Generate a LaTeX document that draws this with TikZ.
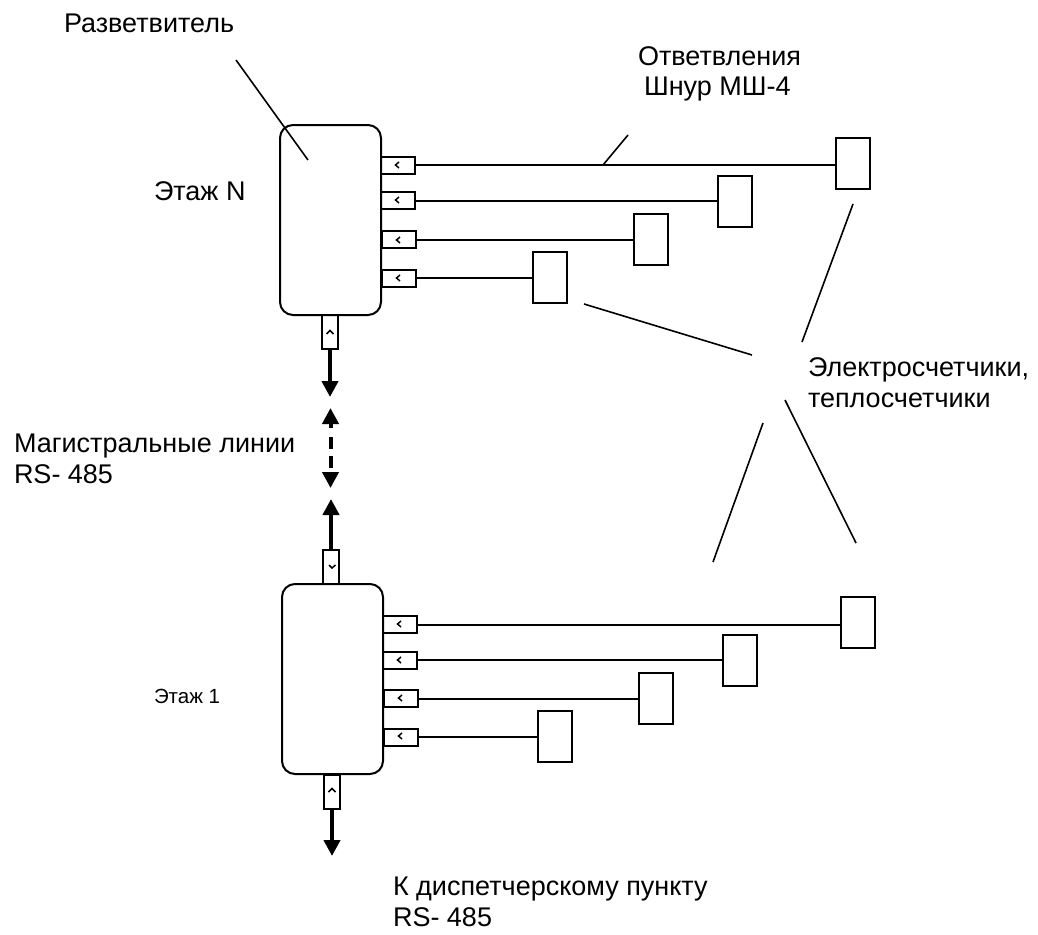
\documentclass[tikz,border=0pt]{standalone}
\usepackage{fontspec}
\setmainfont{Liberation Sans}
\usetikzlibrary{arrows.meta}
\begin{document}
\begin{tikzpicture}[x=1pt, y=-1pt, line width=2pt,
		splitter/.style={draw, rounded corners=13pt, minimum width=101pt, minimum height=190pt, inner sep=0pt, outer sep=0pt},
		tap/.style={draw, minimum width=34pt, minimum height=17pt, inner sep=0pt, outer sep=0pt},
		trunk/.style={draw, minimum width=16pt, minimum height=34pt, inner sep=0pt, outer sep=0pt},
		meter/.style={draw, minimum width=34pt, minimum height=51pt, inner sep=0pt, outer sep=0pt},
		label/.style={anchor=base west, inner sep=0pt, font=\fontsize{27}{32}\selectfont},
		mainline/.style={line width=4pt, -{Triangle[length=16pt, width=16pt]}},
		leader/.style={line width=1.6pt},
		chevron/.style={line width=1.5pt}]
	\useasboundingbox (0, 0) rectangle (1038, 934);

	% upper floor
	\node[splitter] (boxN) at (330.5, 220) {};
	\node[tap] (tapN1) at (398, 165) {};
	\node[tap] (tapN2) at (398, 200.5) {};
	\node[tap] (tapN3) at (398.5, 239.5) {};
	\node[tap] (tapN4) at (398.5, 278) {};
	\node[trunk] (trunkN) at (330, 332) {};
	\node[meter] (meterN1) at (853, 163) {};
	\node[meter] (meterN2) at (735, 201.5) {};
	\node[meter] (meterN3) at (651, 239.5) {};
	\node[meter] (meterN4) at (549.5, 277.5) {};

	\draw (tapN1) -- (tapN1 -| meterN1.west);
	\draw (tapN2) -- (tapN2 -| meterN2.west);
	\draw (tapN3) -- (tapN3 -| meterN3.west);
	\draw (tapN4) -- (tapN4 -| meterN4.west);

	% lower floor
	\node[splitter] (box1) at (332.5, 679) {};
	\node[tap] (tap11) at (400, 624.5) {};
	\node[tap] (tap12) at (400, 660) {};
	\node[tap] (tap13) at (400.5, 698.5) {};
	\node[tap] (tap14) at (400.5, 737) {};
	\node[trunk] (trunk1) at (331, 567) {};
	\node[trunk] (trunk2) at (332, 791.5) {};
	\node[meter] (meter11) at (857.5, 622.5) {};
	\node[meter] (meter12) at (739.5, 660.5) {};
	\node[meter] (meter13) at (655.5, 698.5) {};
	\node[meter] (meter14) at (554.5, 736.5) {};

	\draw (tap11) -- (tap11 -| meter11.west);
	\draw (tap12) -- (tap12 -| meter12.west);
	\draw (tap13) -- (tap13 -| meter13.west);
	\draw (tap14) -- (tap14 -| meter14.west);

	% small marks inside the sockets
	\draw[chevron] (399, 162) -- (395.5, 165) -- (399, 168);
	\draw[chevron] (399, 197) -- (395.5, 200) -- (399, 203);
	\draw[chevron] (400, 237) -- (396.5, 240) -- (400, 243);
	\draw[chevron] (400, 275) -- (396.5, 278) -- (400, 281);
	\draw[chevron] (326.5, 334) -- (330, 330.5) -- (333.5, 334);
	\draw[chevron] (401, 621) -- (397.5, 624) -- (401, 627);
	\draw[chevron] (401, 657) -- (397.5, 660) -- (401, 663);
	\draw[chevron] (402, 695) -- (398.5, 698) -- (402, 701);
	\draw[chevron] (402, 733) -- (398.5, 736) -- (402, 739);
	\draw[chevron] (329, 565) -- (332, 568) -- (335.5, 565);
	\draw[chevron] (328.5, 792) -- (332, 788.5) -- (335.5, 792);

	% trunk lines
	\coordinate (tipN) at (330, 397);
	\coordinate (gapTop) at (330.5, 408);
	\coordinate (gapBottom) at (330.5, 488);
	\coordinate (tip1) at (331, 499);
	\coordinate (tip2) at (332, 856);
	\draw[mainline] (trunkN.south) -- (tipN);
	\draw[mainline, {Triangle[length=16pt, width=16pt]}-{Triangle[length=16pt, width=16pt]}, dash pattern=on 5pt off 9pt on 12pt off 7pt on 12pt off 99pt] (gapTop) -- (gapBottom);
	\draw[mainline] (trunk1.north) -- (tip1);
	\draw[mainline] (trunk2.south) -- (tip2);

	% captions
	\node[label] (splitterText) at (63, 33) {Разветвитель};
	\node[label] (branchText) at (637, 66) {Ответвления};
	\node[label] (cordText) at (643, 95) {Шнур МШ-4};
	\node[label] (floorN) at (153, 200) {Этаж N};
	\node[label] (trunkText) at (13, 452) {Магистральные линии};
	\node[label] (trunkRs) at (13, 483) {RS- 485};
	\node[label] (metersText) at (807, 376) {Электросчетчики,};
	\node[label] (metersMore) at (807, 407) {теплосчетчики};
	\node[label, font=\fontsize{20.5}{24}\selectfont] (floor1) at (153, 703) {Этаж 1};
	\node[label] (dispatchText) at (392, 895) {К диспетчерскому пункту};
	\node[label] (dispatchRs) at (392, 926) {RS- 485};

	% leader lines
	\coordinate (leadA) at (236, 60);
	\coordinate (leadB) at (308, 160);
	\coordinate (leadC) at (628, 135);
	\coordinate (leadD) at (603, 165);
	\coordinate (leadE) at (853, 204);
	\coordinate (leadF) at (802, 342);
	\coordinate (leadG) at (584, 304);
	\coordinate (leadH) at (752, 355);
	\coordinate (leadI) at (763, 423);
	\coordinate (leadJ) at (713, 562);
	\coordinate (leadK) at (785, 400);
	\coordinate (leadL) at (856, 543);
	\draw[leader] (leadA) -- (leadB);
	\draw[leader] (leadC) -- (leadD);
	\draw[leader] (leadE) -- (leadF);
	\draw[leader] (leadG) -- (leadH);
	\draw[leader] (leadI) -- (leadJ);
	\draw[leader] (leadK) -- (leadL);
\end{tikzpicture}
\end{document}
